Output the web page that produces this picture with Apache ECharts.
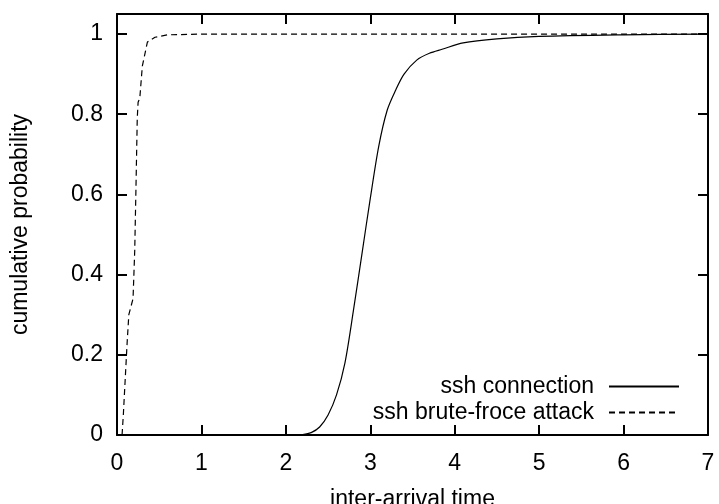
<!DOCTYPE html>
<html>
<head>
<meta charset="utf-8">
<script src="https://cdn.jsdelivr.net/npm/echarts@6/dist/echarts.min.js"></script>
<style>
  html, body { margin: 0; padding: 0; background: #fff; }
  #chart { width: 719px; height: 504px; }
</style>
</head>
<body>
<div id="chart"></div>
<script>
// ssh connection CDF, [inter-arrival time, cumulative probability]
const sshConnection = [
  [0, 0], [2.1, 0], [2.2, 0.001], [2.3, 0.006], [2.4, 0.02], [2.5, 0.05],
  [2.6, 0.1], [2.7, 0.18], [2.8, 0.31], [2.9, 0.45], [3.0, 0.59], [3.1, 0.72],
  [3.2, 0.81], [3.3, 0.86], [3.4, 0.9], [3.55, 0.935], [3.7, 0.952],
  [3.85, 0.962], [4.1, 0.978], [4.5, 0.988], [5, 0.994], [6, 0.998], [7, 1]
]

// ssh brute-force attack CDF
const sshBruteForce = [
  [0.06, 0], [0.075, 0.05], [0.1, 0.15], [0.12, 0.23], [0.14, 0.3],
  [0.19, 0.34], [0.2, 0.4], [0.21, 0.46], [0.225, 0.62], [0.24, 0.79],
  [0.25, 0.83], [0.27, 0.84], [0.3, 0.92], [0.33, 0.95], [0.36, 0.98],
  [0.45, 0.992], [0.6, 0.998], [1, 1], [7, 1]
]

const seriesNames = ['ssh connection', 'ssh brute-froce attack']
const xTicks = [0, 1, 2, 3, 4, 5, 6, 7]
const yTicks = [0, 0.2, 0.4, 0.6, 0.8, 1]

const font = 'Liberation Sans, Arial, sans-serif'
const fs = 23
const chart = echarts.init(document.getElementById('chart'))

// gnuplot style box: inward ticks on all four sides
const tickStyle = { show: true, inside: true, length: 10, lineStyle: { color: '#000', width: 2 } }
const lineAxis = { show: true, onZero: false, lineStyle: { color: '#000', width: 2 } }

chart.setOption({
  animation: false,
  grid: { left: 117, right: 11, top: 14, bottom: 69, outerBoundsMode: 'none', containLabel: false },
  legend: {
    orient: 'vertical',
    right: 39,
    top: 375,
    padding: 0,
    align: 'right',
    itemWidth: 70,
    itemHeight: 10,
    itemGap: 3,
    data: seriesNames,
    itemStyle: { opacity: 0 },
    textStyle: { fontFamily: font, fontSize: fs, color: '#000', padding: [0, 10, 0, 0] }
  },
  xAxis: [
    {
      type: 'value',
      min: 0,
      max: 7,
      interval: 1,
      name: 'inter-arrival time',
      nameLocation: 'middle',
      nameGap: 53,
      nameTextStyle: { fontFamily: font, fontSize: fs, color: '#000' },
      axisLine: lineAxis,
      axisTick: tickStyle,
      splitLine: { show: false },
      axisLabel: {
        margin: 17,
        fontFamily: font,
        fontSize: fs,
        color: '#000',
        formatter: (v) => (xTicks.includes(v) ? String(v) : '')
      }
    },
    {
      type: 'value',
      position: 'top',
      min: 0,
      max: 7,
      interval: 1,
      axisLine: lineAxis,
      axisTick: tickStyle,
      axisLabel: { show: false },
      splitLine: { show: false }
    }
  ],
  yAxis: [
    {
      type: 'value',
      min: 0,
      max: 1.05,
      interval: 0.2,
      name: 'cumulative probability',
      nameLocation: 'middle',
      nameGap: 85,
      nameTextStyle: { fontFamily: font, fontSize: fs, color: '#000' },
      axisLine: lineAxis,
      axisTick: tickStyle,
      splitLine: { show: false },
      axisLabel: {
        margin: 14,
        fontFamily: font,
        fontSize: fs,
        color: '#000',
        formatter: (v) => {
          const r = Math.round(v * 10) / 10
          return yTicks.some((t) => Math.abs(t - v) < 1e-6) ? String(r) : ''
        }
      }
    },
    {
      type: 'value',
      position: 'right',
      min: 0,
      max: 1.05,
      interval: 0.2,
      axisLine: lineAxis,
      axisTick: tickStyle,
      axisLabel: { show: false },
      splitLine: { show: false }
    }
  ],
  series: [
    {
      name: seriesNames[0],
      type: 'line',
      data: sshConnection,
      symbol: 'none',
      smooth: 0.3,
      lineStyle: { color: '#000', width: 1.2, type: 'solid' },
      itemStyle: { color: '#000' }
    },
    {
      name: seriesNames[1],
      type: 'line',
      data: sshBruteForce,
      symbol: 'none',
      lineStyle: { color: '#000', width: 1.2, type: [6, 4] },
      itemStyle: { color: '#000' }
    }
  ]
})
</script>
</body>
</html>
